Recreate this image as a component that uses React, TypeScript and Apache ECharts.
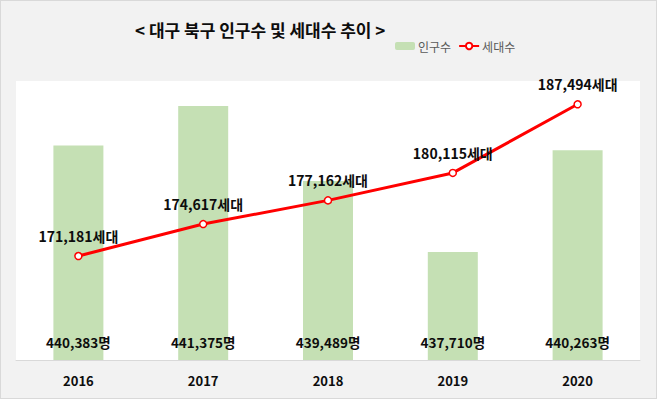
import React, { useEffect, useRef } from "react";
import * as echarts from "echarts";

const years = ["2016", "2017", "2018", "2019", "2020"];
const population = [440383, 441375, 439489, 437710, 440263];
const households = [171181, 174617, 177162, 180115, 187494];

const FONT = "'Noto Sans CJK KR', 'Noto Sans', sans-serif";
const fmt = (v: number) => v.toLocaleString("en-US");

export default function App() {
  const ref = useRef<HTMLDivElement>(null);
  useEffect(() => {
    const chart = echarts.init(ref.current!, null, { renderer: "svg" });
    chart.setOption({
      animation: false,
      backgroundColor: "#f2f2f2",
      textStyle: { fontFamily: FONT },
      title: {
        text: "< 대구 북구 인구수 및 세대수 추이 >",
        left: 129,
        top: 15,
        textStyle: { fontFamily: FONT, fontSize: 17, fontWeight: "bold", color: "#0d0d0d" },
      },
      legend: {
        left: 389,
        top: 34,
        itemWidth: 20,
        itemHeight: 8,
        itemGap: 7,
        textStyle: { fontFamily: FONT, fontSize: 12, color: "#595959", padding: [0, 0, 0, -2] },
        data: ["인구수", "세대수"],
      },
      grid: {
        left: 15,
        right: 16,
        top: 80,
        bottom: 38,
        show: true,
        backgroundColor: "#ffffff",
        borderWidth: 0,
      },
      xAxis: {
        type: "category",
        data: years,
        axisTick: { show: false },
        axisLine: { lineStyle: { color: "#d9d9d9", width: 1 } },
        axisLabel: { fontFamily: FONT, fontSize: 13, fontWeight: "bold", color: "#0d0d0d", margin: 14 },
      },
      yAxis: [
        { type: "value", min: 435000, max: 442000, show: false, splitLine: { show: false } },
        { type: "value", min: 160000, max: 190000, show: false, splitLine: { show: false } },
      ],
      series: [
        {
          name: "인구수",
          type: "bar",
          yAxisIndex: 0,
          data: population,
          barWidth: 50,
          itemStyle: { color: "#c5e0b4" },
          label: {
            show: true,
            position: "insideBottom",
            distance: 11,
            formatter: (p: any) => fmt(p.value) + "명",
            fontFamily: FONT,
            fontSize: 13.5,
            fontWeight: "bold",
            color: "#0d0d0d",
          },
        },
        {
          name: "세대수",
          type: "line",
          yAxisIndex: 1,
          data: households,
          symbol: "circle",
          symbolSize: 7,
          lineStyle: { color: "#ff0000", width: 3 },
          itemStyle: { color: "#ffffff", borderColor: "#ff0000", borderWidth: 1.5 },
          label: {
            show: true,
            position: "top",
            distance: 9,
            formatter: (p: any) => fmt(p.value) + "세대",
            fontFamily: FONT,
            fontSize: 14,
            fontWeight: "bold",
            color: "#0d0d0d",
          },
          z: 5,
        },
      ],
    });
    return () => chart.dispose();
  }, []);
  return (
    <div
      ref={ref}
      style={{
        position: "fixed",
        left: 0,
        top: 0,
        width: 657,
        height: 399,
        boxSizing: "border-box",
        border: "1px solid #d9d9d9",
      }}
    />
  );
}
